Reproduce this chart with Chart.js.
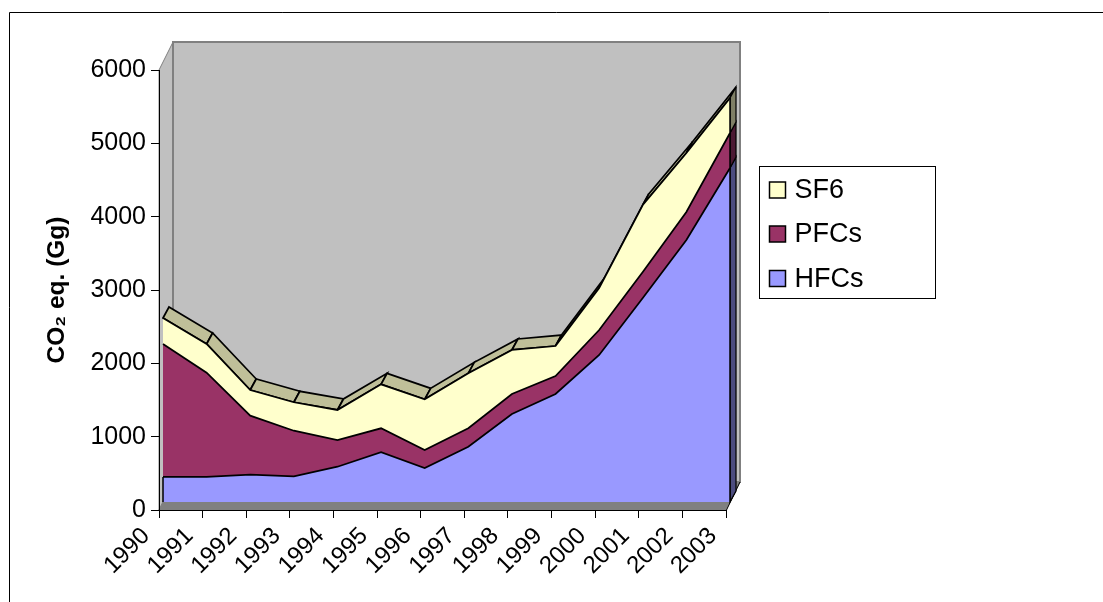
<!DOCTYPE html>
<html><head><meta charset="utf-8">
<style>html,body{margin:0;padding:0;background:#fff}#w{position:relative;width:1103px;height:602px}canvas{display:block}</style>
<script src="https://cdn.jsdelivr.net/npm/chart.js@4"></script>
</head><body><div id="w"><canvas id="c" width="1103" height="602"></canvas></div>
<script>
const years = ['1990','1991','1992','1993','1994','1995','1996','1997','1998','1999','2000','2001','2002','2003'];
const hfcs = [341,341,372,350,481,678,464,754,1200,1473,2005,2782,3573,4555];
const pfcs = [1814,1422,805,622,364,327,245,251,273,245,340,354,382,477];
const sf6  = [354,392,350,388,410,600,691,750,600,409,573,914,804,477];
const yTicks = [0,1000,2000,3000,4000,5000,6000];

const WALL=[14,-28], FRONT=[4,-8], SERIES_DEPTH=[6,-11];
const COL={hfc:'#9999ff',pfc:'#993366',sf6:'#ffffcc',wall:'#c0c0c0',edge:'#808080'};
const FONT='"Liberation Sans"';

function poly(ctx,pts,fill,stroke,lw){
  ctx.beginPath();pts.forEach((p,i)=>i?ctx.lineTo(p[0],p[1]):ctx.moveTo(p[0],p[1]));ctx.closePath();
  if(fill){ctx.fillStyle=fill;ctx.fill();}
  if(stroke){ctx.strokeStyle=stroke;ctx.lineWidth=lw;ctx.lineJoin='miter';ctx.stroke();}
}
const depth3d={
  id:'depth3d',
  beforeDraw(chart){
    const c=chart.ctx,a=chart.chartArea;
    c.save();
    c.strokeStyle='#000';c.lineWidth=1;c.beginPath();c.moveTo(9.5,602);c.lineTo(9.5,12.5);c.lineTo(1103,12.5);c.stroke();
    const L=a.left,R=a.right,T=a.top,B=a.bottom,dx=WALL[0],dy=WALL[1];
    poly(c,[[L,T],[L+dx,T+dy],[L+dx,B+dy],[L,B]],COL.wall,COL.edge,1);
    poly(c,[[L+dx,T+dy],[R+dx,T+dy],[R+dx,B+dy],[L+dx,B+dy]],COL.wall,COL.edge,2);
    poly(c,[[L,B],[L+dx,B+dy],[R+dx,B+dy],[R,B]],COL.edge,COL.edge,1);
    c.strokeStyle='#000';c.lineWidth=1;c.beginPath();c.moveTo(R+.5,B);c.lineTo(R+dx,B+dy);c.stroke();
    c.restore();
  },
  beforeDatasetsDraw(chart){
    const c=chart.ctx,x=chart.scales.x,y=chart.scales.y;
    const n=years.length,[fx,fy]=FRONT,[sx,sy]=SERIES_DEPTH;
    const X=i=>x.getPixelForValue(i)+fx;
    const Y=v=>y.getPixelForValue(v)+fy;
    const tot=years.map((_,i)=>hfcs[i]+pfcs[i]+sf6[i]);
    c.save();
    for(let i=0;i<n-1;i++){
      poly(c,[[X(i),Y(tot[i])],[X(i)+sx,Y(tot[i])+sy],[X(i+1)+sx,Y(tot[i+1])+sy],[X(i+1),Y(tot[i+1])]],'#bfbf99','#000',1.75);
    }
    const e=n-1,h=hfcs[e],p=h+pfcs[e],t=tot[e],xr=X(e);
    [[0,h,'#4c4c7f'],[h,p,'#4c1933'],[p,t,'#7f7f66']].forEach(([a,b,col])=>{
      poly(c,[[xr,Y(a)],[xr+sx,Y(a)+sy],[xr+sx,Y(b)+sy],[xr,Y(b)]],col,'#000',1.25);
    });
    c.restore();
    c.save();c.translate(fx,fy);
  },
  afterDatasetsDraw(chart){
    const c=chart.ctx;
    c.restore();
    const x=chart.scales.x,y=chart.scales.y,[fx,fy]=FRONT,e=years.length-1;
    c.save();c.strokeStyle='#000';c.lineWidth=1.5;c.beginPath();
    const xl=x.getPixelForValue(0)+fx,xr=x.getPixelForValue(e)+fx;
    c.moveTo(xl,y.getPixelForValue(0)+fy);c.lineTo(xl,y.getPixelForValue(hfcs[0])+fy);
    c.moveTo(xr,y.getPixelForValue(0)+fy);c.lineTo(xr,y.getPixelForValue(hfcs[e]+pfcs[e]+sf6[e])+fy);
    c.stroke();
    c.restore();
  },
  afterDraw(chart){
    const c=chart.ctx;
    c.save();
    c.fillStyle='#fff';c.strokeStyle='#000';c.lineWidth=1;
    c.fillRect(759.5,166.5,176,132);c.strokeRect(759.5,166.5,176,132);
    const centers=[190,234,278.5];
    [...chart.data.datasets].reverse().forEach((d,i)=>{
      const cy=centers[i];
      c.fillStyle=d.backgroundColor;c.strokeStyle='#000';c.lineWidth=1.5;
      c.fillRect(769.5,cy-8,16,16);c.strokeRect(769.5,cy-8,16,16);
      c.fillStyle='#000';c.font='27px '+FONT;c.textBaseline='middle';c.textAlign='left';
      c.fillText(d.label,794.5,cy+1);
    });
    c.restore();
  }
};
const ds=(label,data,color,fill)=>({label,data,backgroundColor:color,borderColor:'#000',borderWidth:1.75,fill,pointRadius:0,tension:0,clip:false,borderJoinStyle:'miter'});
new Chart(document.getElementById('c'),{
  type:'line',
  data:{labels:years,datasets:[ds('HFCs',hfcs,COL.hfc,'origin'),ds('PFCs',pfcs,COL.pfc,'-1'),ds('SF6',sf6,COL.sf6,'-1')]},
  plugins:[depth3d],
  options:{
    responsive:false,animation:false,
    layout:{padding:{top:70,right:377,left:0,bottom:0}},
    scales:{
      x:{stacked:true,offset:false,
        afterFit:s=>{s.height=92},
        grid:{drawOnChartArea:false,drawTicks:true,tickLength:8,color:'#000'},
        border:{display:true,color:'#000',width:1},
        ticks:{autoSkip:false,minRotation:45,maxRotation:45,color:'#000',padding:4,labelOffset:-13,font:{family:FONT,size:24}}},
      y:{stacked:true,min:0,max:6000,
        afterFit:s=>{s.width=159},
        afterBuildTicks:s=>{s.ticks=yTicks.map(v=>({value:v}))},
        grid:{drawOnChartArea:false,drawTicks:true,tickLength:8,color:'#000'},
        border:{display:true,color:'#000',width:1},
        ticks:{color:'#000',padding:5,callback:v=>String(v),font:{family:FONT,size:25}},
        title:{display:true,text:'CO₂ eq. (Gg)',color:'#000',padding:{top:43,bottom:0},font:{family:FONT,size:24.5,weight:'bold'}}}
    },
    plugins:{
      tooltip:{enabled:false},
      filler:{drawTime:'beforeDatasetDraw'},
      legend:{display:false}
    }
  }
});
</script></body></html>
